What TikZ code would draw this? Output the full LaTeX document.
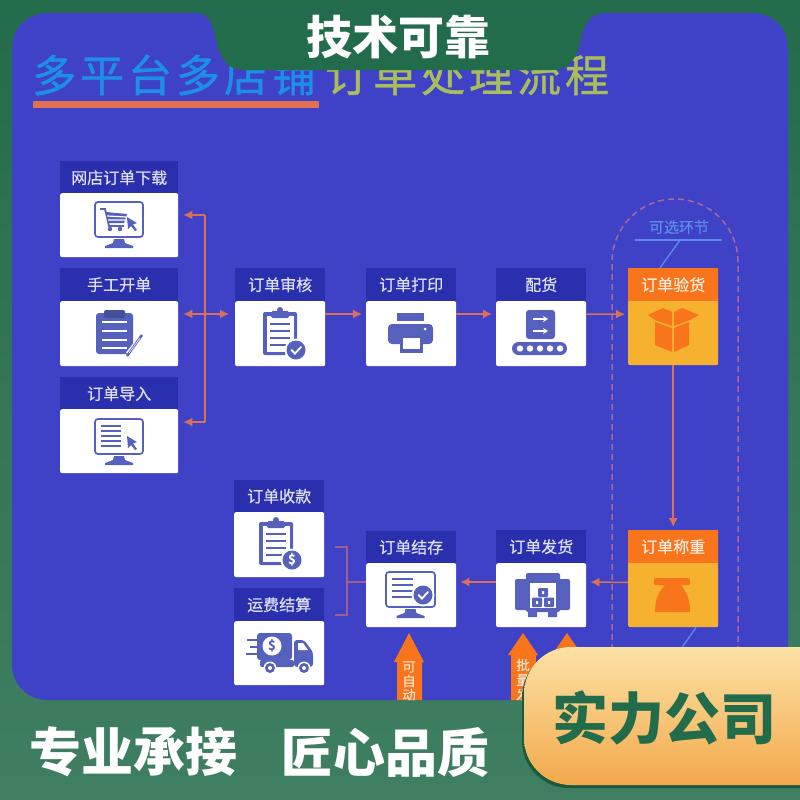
\documentclass[tikz,border=0pt]{standalone}
\usepackage{fontspec}
\setmainfont{Noto Sans CJK SC}
\newfontfamily\cjkm[FakeBold=0.5]{Noto Sans CJK SC}
\newfontfamily\cjkt[FakeBold=0.9,LetterSpace=9]{Noto Sans CJK SC}
\usetikzlibrary{arrows.meta}
\definecolor{panel}{HTML}{3F42C6}
\definecolor{headc}{HTML}{2A2FAE}
\definecolor{icon}{HTML}{5661BE}
\definecolor{flow}{HTML}{DB7058}
\definecolor{brk}{HTML}{A0608F}
\definecolor{dashc}{HTML}{A8689A}
\definecolor{orng}{HTML}{F9751C}
\definecolor{yell}{HTML}{F6B22F}
\definecolor{darkg}{HTML}{226B4B}
\definecolor{lowg}{HTML}{3F7E61}
\definecolor{softb}{HTML}{5B8CE8}
\definecolor{headt}{HTML}{DDE0F5}
\definecolor{titlea}{HTML}{1E8FE6}
\definecolor{titleb}{HTML}{A8BE5A}
\definecolor{rulec}{HTML}{E0704F}
\definecolor{boxtop}{HTML}{FCE2A6}
\definecolor{boxlow}{HTML}{F3A94B}
\definecolor{boxshadow}{HTML}{1B5A40}
\newcommand\panelpath{(12,48) arc[start angle=180,end angle=270,radius=35] -- (753,13) arc[start angle=270,end angle=360,radius=35] -- (788,700) -- (47,700) arc[start angle=90,end angle=180,radius=35] -- cycle}
\newcommand\monitorbox[4]{%
  \draw[icon,line width=1.7pt,fill=white,rounded corners=3pt] (#1,#2) rectangle (#3,#4);
  \fill[icon] ({(#1+#3)/2-5},#4+2) -- ({(#1+#3)/2+5},#4+2) -- ({(#1+#3)/2+6},#4+6) -- ({(#1+#3)/2+14},#4+9) -- ({(#1+#3)/2+14},#4+11) -- ({(#1+#3)/2-14},#4+11) -- ({(#1+#3)/2-14},#4+9) -- ({(#1+#3)/2-6},#4+6) -- cycle;}
\newcommand\cursoricon[2]{%
  \fill[icon] (#1,#2) -- (#1+10,#2+6) -- (#1+6,#2+7.5) -- (#1+10,#2+13) -- (#1+8,#2+14) -- (#1+4,#2+9) -- (#1+1,#2+12) -- cycle;}
\newcommand\clipicon[4]{%
  \fill[icon,rounded corners=2pt] (#1,#2) rectangle (#3,#4);
  \fill[white] (#1+3.5,#2+4) rectangle (#3-3.5,#4-3.5);
  \fill[icon,rounded corners=1.5pt] ({(#1+#3)/2-9},#2-1) rectangle ({(#1+#3)/2+9},#2+6);
  \fill[icon] ({(#1+#3)/2},#2-2) circle (3pt);
  \foreach \ly in {12,19,26,33}{\draw[icon,line width=1.5pt] (#1+7,#2+\ly) -- (#3-7,#2+\ly);}}
\newcommand\badge[2]{%
  \fill[white] (#1,#2) circle (11.5pt);
  \fill[icon] (#1,#2) circle (9.5pt);}
\newcommand\checkmk[2]{\draw[white,line width=1.8pt,line cap=round] (#1-4.5,#2) -- (#1-1,#2+3.5) -- (#1+5,#2-3);}
\tikzset{
  x=1pt,y=-1pt,
  cardhead/.style={fill=headc,text=headt,font=\cjkm\fontsize{16}{16}\selectfont,inner sep=0pt,anchor=north west,minimum height=33pt},
  cardbody/.style={fill=white,inner sep=0pt,anchor=north west,rounded corners=2pt},
  opthead/.style={cardhead,fill=orng,text=white!85!orng},
  optbody/.style={cardbody,fill=yell},
  flowline/.style={draw=flow,line width=1.5pt},
  flowarrow/.style={flowline,-{Latex[length=9pt,width=9pt]}},
  flowboth/.style={flowline,{Latex[length=9pt,width=9pt]}-{Latex[length=9pt,width=9pt]}},
  softline/.style={draw=softb,line width=1.3pt},
  bigarrow/.style={fill=orng},
  arrowtxt/.style={text=white!80!orange,font=\cjkm\fontsize{13.5}{14}\selectfont,inner sep=0pt},
  headline/.style={font=\bfseries\fontsize{46}{46}\selectfont,inner sep=0pt,text=white},
  titletxt/.style={font=\cjkt\fontsize{44}{44}\selectfont,inner sep=0pt},
}
\begin{document}
\begin{tikzpicture}
\useasboundingbox (0,0) rectangle (800,800);
\shade[top color=darkg,bottom color=lowg,middle color=lowg!60!darkg] (0,0) rectangle (800,800);
\fill[panel] \panelpath;
% title
\node[titletxt,text=titlea,anchor=west] (titleA) at (32,75) {多平台多店铺};
\node[titletxt,text=titleb,anchor=west] (titleB) at (325,75) {订单处理流程};
\fill[rulec] (33,101) rectangle (319,108);
% top tab
\fill[darkg] (196,13) .. controls (208,13) and (212,22) .. (215,36) .. controls (219,54) and (224,70) .. (245,70) -- (552,70) .. controls (572,70) and (577,56) .. (581,38) .. controls (585,22) and (590,13) .. (607,13) -- cycle;
\node[headline,font=\bfseries\fontsize{46}{46}\selectfont] (tabtext) at (398,37) {技术可靠};
% dashed loop
\draw[dashc,line width=1.5pt,dash pattern=on 6pt off 4pt] (612,700) -- (612,262) arc[start angle=180,end angle=360,radius=63] -- (738,700);
% cards, left column
\node[cardhead,minimum width=118pt] (dlh) at (60,161) {网店订单下载};
\node[cardbody,minimum width=118pt,minimum height=64pt] (dl) at (60,193) {};
\node[cardhead,minimum width=118pt] (mkh) at (60,268) {手工开单};
\node[cardbody,minimum width=118pt,minimum height=65pt] (mk) at (60,301) {};
\node[cardhead,minimum width=118pt] (imh) at (60,377) {订单导入};
\node[cardbody,minimum width=118pt,minimum height=64pt] (im) at (60,409) {};
% cards, upper row
\node[cardhead,minimum width=90pt] (rvh) at (235,268) {订单审核};
\node[cardbody,minimum width=90pt,minimum height=65pt] (rv) at (235,301) {};
\node[cardhead,minimum width=90pt] (prh) at (366,268) {订单打印};
\node[cardbody,minimum width=90pt,minimum height=65pt] (pr) at (366,301) {};
\node[cardhead,minimum width=90pt] (pkh) at (496,268) {配货};
\node[cardbody,minimum width=90pt,minimum height=65pt] (pk) at (496,301) {};
\node[optbody,minimum width=90pt,minimum height=97pt] (ck) at (628,268) {};
\node[opthead,minimum width=90pt] (ckh) at (628,268) {订单验货};
% cards, lower rows
\node[cardhead,minimum width=90pt,minimum height=32pt] (rch) at (234,480) {订单收款};
\node[cardbody,minimum width=90pt,minimum height=65pt] (rc) at (234,512) {};
\node[cardhead,minimum width=90pt] (frh) at (234,588) {运费结算};
\node[cardbody,minimum width=90pt,minimum height=64pt] (fr) at (234,621) {};
\node[cardhead,minimum width=90pt,minimum height=32pt] (svh) at (366,531) {订单结存};
\node[cardbody,minimum width=90pt,minimum height=64pt] (sv) at (366,563) {};
\node[cardhead,minimum width=90pt,minimum height=33pt] (shh) at (496,530) {订单发货};
\node[cardbody,minimum width=90pt,minimum height=64pt] (sh) at (496,563) {};
\node[optbody,minimum width=90pt,minimum height=97pt] (wg) at (628,530) {};
\node[opthead,minimum width=90pt] (wgh) at (628,530) {订单称重};
% optional label
\node[inner sep=0pt,text=softb,font=\cjkm\fontsize{15}{15}\selectfont] (optl) at (679,227) {可选环节};
\coordinate (ol1) at (635,240); \coordinate (ol2) at (722,240); \coordinate (ol3) at (680,240);
\draw[softline] (ol1) -- (ol2);
\draw[softline] (ol3) -- ([xshift=32pt]ck.north west);
\draw[softline] ([xshift=68pt]wg.south west) -- ++(-14,20);
% connectors
\coordinate (jt) at (205,215);
\coordinate (jb) at (205,422);
\draw[flowline] (jt) -- (jb);
\draw[flowarrow,shorten >=5pt] (jt) -- (dl.east |- jt);
\draw[flowarrow,shorten >=5pt] (jb) -- (im.east |- jb);
\draw[flowboth,shorten <=5pt,shorten >=6pt] ([yshift=-13pt]mk.north east) -- ([yshift=-13pt]rv.north west);
\draw[flowarrow,shorten >=4pt] ([yshift=-13pt]rv.north east) -- ([yshift=-13pt]pr.north west);
\draw[flowarrow,shorten >=4pt] ([yshift=-13pt]pr.north east) -- ([yshift=-13pt]pk.north west);
\draw[flowarrow,shorten >=3pt] ([yshift=-13pt]pk.north east) -- ([yshift=2.5pt]ck.west);
\draw[flowarrow,shorten >=3pt] (ck.south) -- (wgh.north);
\draw[flowarrow,shorten >=4pt] ([yshift=-19pt]wg.south west |- wgh.south) -- ([yshift=-19pt]sh.north east);
\draw[flowarrow,shorten >=4pt] ([yshift=-19pt]sh.north west) -- ([yshift=-19pt]sv.north east);
\coordinate (bk) at (347,582);
\draw[brk,line width=1.5pt] (bk) -- ([yshift=-19pt]sv.north west);
\coordinate (bk1) at (335,547); \coordinate (bk2) at (347,547); \coordinate (bk3) at (347,615); \coordinate (bk4) at (335,615);
\draw[brk,line width=1.5pt] (bk1) -- (bk2) -- (bk3) -- (bk4);
% icons: cart monitor
\monitorbox{95}{202}{143}{237}
\draw[icon,line width=1.8pt] (100,209) -- (105,209) -- (109,226) -- (124,226);
\fill[icon] (106,212) -- (127,214) -- (124,223) -- (108,223) -- cycle;
\draw[white,line width=1.2pt] (107,216) -- (126,217) (108,220) -- (125,220);
\fill[icon] (110,229) circle (2.2pt) (120,229) circle (2.2pt);
\cursoricon{127}{217}
% icons: manual
\fill[icon,rounded corners=3pt] (96,313) rectangle (133,354);
\fill[icon!80!black,rounded corners=2pt] (104,310) rectangle (125,318);
\foreach \ly in {322,331,340,348}{\draw[white,line width=1.5pt] (102,\ly) -- (127,\ly);}
\draw[white,line width=5pt] (128,354) -- (143,335);
\draw[icon,line width=2.4pt] (127,356) -- (142,335);
\draw[white,line width=.6pt] (129,353) -- (140,338);
% icons: import
\monitorbox{95}{419}{143}{454}
\foreach \ly in {426,431,436,441,446}{\draw[icon,line width=1.4pt] (101,\ly) -- (121,\ly);}
\cursoricon{127}{436}
% icons: review
\clipicon{263}{312}{297}{355}
\badge{296}{350}
\checkmk{296}{350}
% icons: printer
\fill[icon] (397,313) rectangle (424,321);
\fill[icon,rounded corners=4pt] (388,324) rectangle (433,344);
\fill[white] (425,329) circle (1.5pt);
\fill[icon] (400,335) rectangle (423,353);
\fill[white] (403,338) rectangle (420,349);
% icons: pick
\fill[icon,rounded corners=3pt] (526,310) rectangle (555,339);
\draw[white,line width=1.6pt,-{Stealth[length=5pt,width=6pt]}] (533,319) -- (548,319);
\draw[white,line width=1.6pt,-{Stealth[length=5pt,width=6pt]}] (533,331) -- (548,331);
\fill[icon,rounded corners=6.5pt] (512,342) rectangle (567,355);
\foreach \dx in {520,530,540,550,560}{\fill[white] (\dx,348.5) circle (3.2pt);}
% icons: box
\fill[orng] (655,322) -- (672,328) -- (672,352) -- (655,345) -- cycle;
\fill[orng] (689,322) -- (674,328) -- (674,352) -- (689,345) -- cycle;
\fill[orng] (648,315) -- (663,308) -- (672,312) -- (672,326) -- (655,320) -- cycle;
\fill[orng] (699,315) -- (682,308) -- (674,312) -- (674,326) -- (690,320) -- cycle;
% icons: scale
\fill[orng,rounded corners=2pt] (654,578) rectangle (690,585);
\fill[orng] (665,585) -- (681,585) .. controls (686,592) and (690,598) .. (690,612) -- (655,612) .. controls (655,598) and (659,592) .. (665,585) -- cycle;
% icons: ship
\fill[icon,rounded corners=2pt] (526,573) rectangle (560,612);
\fill[icon,rounded corners=2pt] (515,579) rectangle (570,610);
\fill[icon] (528,610) rectangle (537,617) (548,610) rectangle (557,617);
\fill[white] (530,583) rectangle (556,608);
\fill[icon,rounded corners=1pt] (538,588) rectangle (548,597);
\fill[icon,rounded corners=1pt] (532,597.5) rectangle (542,607);
\fill[icon,rounded corners=1pt] (544,597.5) rectangle (554,607);
\fill[white] (542,591) rectangle (544,594) (536,601) rectangle (538,604) (548,601) rectangle (550,604);
% icons: receipt
\clipicon{259}{522}{293}{565}
\badge{292}{560}
\node[inner sep=0pt,text=white,font=\bfseries\fontsize{13}{13}\selectfont] (usd1) at (292,560) {\$};
% icons: truck
\fill[icon,rounded corners=3pt] (257,633) rectangle (292,660);
\fill[white] (272,646) circle (9.5pt);
\node[inner sep=0pt,text=icon,font=\bfseries\fontsize{13}{13}\selectfont] (usd2) at (272,646) {\$};
\fill[icon,rounded corners=3pt] (294,640) -- (304,640) -- (313,652) -- (313,667) -- (294,667) -- cycle;
\fill[white] (298,643) -- (303,643) -- (308,650) -- (298,650) -- cycle;
\fill[icon,rounded corners=2pt] (260,660) rectangle (294,667);
\draw[icon,line width=1.6pt] (247,640) -- (257,640) (250,647) -- (257,647) (246,654) -- (257,654);
\fill[white] (270,668) circle (6.5pt) (304,668) circle (6.5pt);
\fill[icon] (270,668) circle (5pt) (304,668) circle (5pt);
\fill[white] (270,668) circle (2pt) (304,668) circle (2pt);
% icons: saved
\monitorbox{386}{572}{435}{607}
\foreach \ly in {579,585,591,597}{\draw[icon,line width=1.4pt] (392,\ly) -- (413,\ly);}
\badge{423}{595}
\checkmk{423}{595}
% orange arrows
\begin{scope}
\clip \panelpath;
\fill[bigarrow] (409,633) -- (424,662) -- (422,662) -- (422,702) -- (397,702) -- (397,662) -- (394,662) -- cycle;
\fill[bigarrow] (523,633) -- (538,655) -- (536,655) -- (536,702) -- (511,702) -- (511,655) -- (508,655) -- cycle;
\fill[bigarrow] (567,633) -- (582,655) -- (580,655) -- (580,702) -- (555,702) -- (555,655) -- (552,655) -- cycle;
\node[arrowtxt] (a1) at (409,667) {可};
\node[arrowtxt] (a2) at (409,681) {自};
\node[arrowtxt] (a3) at (409,695) {动};
\node[arrowtxt] (b1) at (523,665) {批};
\node[arrowtxt] (b2) at (523,680) {量};
\node[arrowtxt] (b3) at (523,695) {发};
\end{scope}
% feature box
\fill[boxshadow,rounded corners=47pt] (522,650) rectangle (860,788);
\shade[top color=boxtop,bottom color=boxlow,rounded corners=47pt] (524,647) rectangle (860,785);
\node[inner sep=0pt,text=darkg,font=\bfseries\fontsize{56}{56}\selectfont] (feat) at (664,718) {实力公司};
% bottom slogan
\node[headline,font=\bfseries\fontsize{52}{52}\selectfont,anchor=west] (sl1) at (29,752) {专业承接};
\node[headline,font=\bfseries\fontsize{52}{52}\selectfont,anchor=west] (sl2) at (281,752) {匠心品质};
\end{tikzpicture}
\end{document}
